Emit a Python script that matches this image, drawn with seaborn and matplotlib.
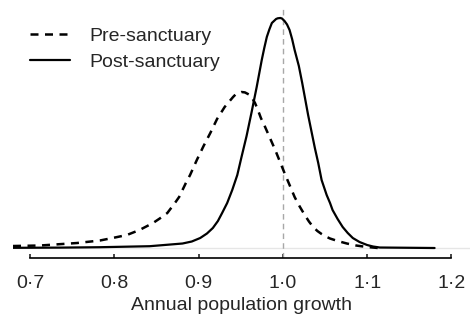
import seaborn as sns
import matplotlib.pyplot as plt
from matplotlib.ticker import FixedLocator, FixedFormatter

# values (density in arbitrary units)
pre_x = [0.680, 0.712, 0.756, 0.783, 0.798, 0.815, 0.830, 0.846, 0.854, 0.863,
         0.872, 0.877, 0.881, 0.885, 0.890, 0.898, 0.906, 0.914, 0.922, 0.931,
         0.935, 0.941, 0.944, 0.951, 0.955, 0.960, 0.963, 0.967, 0.970, 0.974,
         0.979, 0.991, 1.002, 1.014, 1.020, 1.026, 1.031, 1.036, 1.041, 1.046,
         1.051, 1.056, 1.065, 1.076, 1.087, 1.100, 1.113]
pre_y = [0.10, 0.125, 0.25, 0.375, 0.50, 0.65, 0.90, 1.25, 1.475, 1.75,
         2.25, 2.55, 2.90, 3.25, 3.65, 4.40, 5.10, 5.75, 6.45, 7.05,
         7.25, 7.55, 7.68, 7.80, 7.78, 7.67, 7.55, 7.25, 6.95, 6.50,
         6.05, 4.90, 3.75, 2.55, 2.075, 1.65, 1.325, 1.05, 0.85, 0.70,
         0.575, 0.475, 0.35, 0.225, 0.125, 0.05, 0.0]

post_x = [0.680, 0.736, 0.783, 0.842, 0.881, 0.892, 0.902, 0.910, 0.917, 0.923,
          0.928, 0.934, 0.940, 0.946, 0.951, 0.957, 0.963, 0.969, 0.972, 0.975,
          0.978, 0.981, 0.984, 0.987, 0.992, 0.994, 0.997, 0.999, 1.002, 1.005,
          1.008, 1.011, 1.014, 1.019, 1.023, 1.030, 1.038, 1.042, 1.046, 1.052,
          1.056, 1.059, 1.065, 1.071, 1.077, 1.083, 1.091, 1.100, 1.107, 1.115,
          1.180]
post_y = [0.01, 0.02, 0.04, 0.09, 0.225, 0.325, 0.50, 0.725, 1.00, 1.35,
          1.75, 2.25, 2.90, 3.65, 4.55, 5.60, 6.80, 8.05, 8.725, 9.40,
          10.00, 10.55, 10.925, 11.25, 11.45, 11.485, 11.50, 11.475, 11.35, 11.175,
          10.90, 10.45, 9.90, 9.10, 8.25, 6.65, 5.00, 4.25, 3.40, 2.65,
          2.25, 1.90, 1.45, 1.05, 0.75, 0.50, 0.30, 0.15, 0.075, 0.025,
          0.0]

ticks = [0.7, 0.8, 0.9, 1.0, 1.1, 1.2]
tick_labels = ["0·7", "0·8", "0·9", "1·0", "1·1", "1·2"]

sns.set_style("white")
plt.rcParams['font.family'] = ['Liberation Sans', 'DejaVu Sans']

fig = plt.figure(figsize=(4.7, 3.16), dpi=100)
ax = fig.add_axes([0.0277, 0.1835, 0.9723, 0.7912])

ax.axhline(0, color='#e6e6e6', lw=1, zorder=0)
ax.axvline(1.0, color='#a8a8a8', lw=1, linestyle=(0, (4, 3)), zorder=1)

sns.lineplot(x=pre_x, y=pre_y, ax=ax, color='black', lw=1.8,
             linestyle=(0, (3.2, 2.6)), label='Pre-sanctuary')
sns.lineplot(x=post_x, y=post_y, ax=ax, color='black', lw=1.6,
             label='Post-sanctuary')

ax.set_xlim(0.68, 1.222)
ax.set_ylim(-0.5, 12.0)
ax.set_yticks([])
for s in ['top', 'left', 'right']:
    ax.spines[s].set_visible(False)
ax.spines['bottom'].set_bounds(0.7, 1.2)
ax.spines['bottom'].set_color('black')
ax.spines['bottom'].set_linewidth(1.2)

ax.xaxis.set_major_locator(FixedLocator(ticks))
ax.xaxis.set_major_formatter(FixedFormatter(tick_labels))
ax.tick_params(axis='x', direction='in', length=3, width=1.2, pad=12,
               labelsize=14, bottom=True)
ax.set_xlabel('Annual population growth', fontsize=14, labelpad=4)

ax.legend(loc='upper left', bbox_to_anchor=(0.0638, 0.9145),
          bbox_transform=fig.transFigure, frameon=False, fontsize=14,
          handlelength=2.06, handletextpad=1.0, labelspacing=0.46,
          borderpad=0, borderaxespad=0)

fig.savefig('out.png', dpi=100)
